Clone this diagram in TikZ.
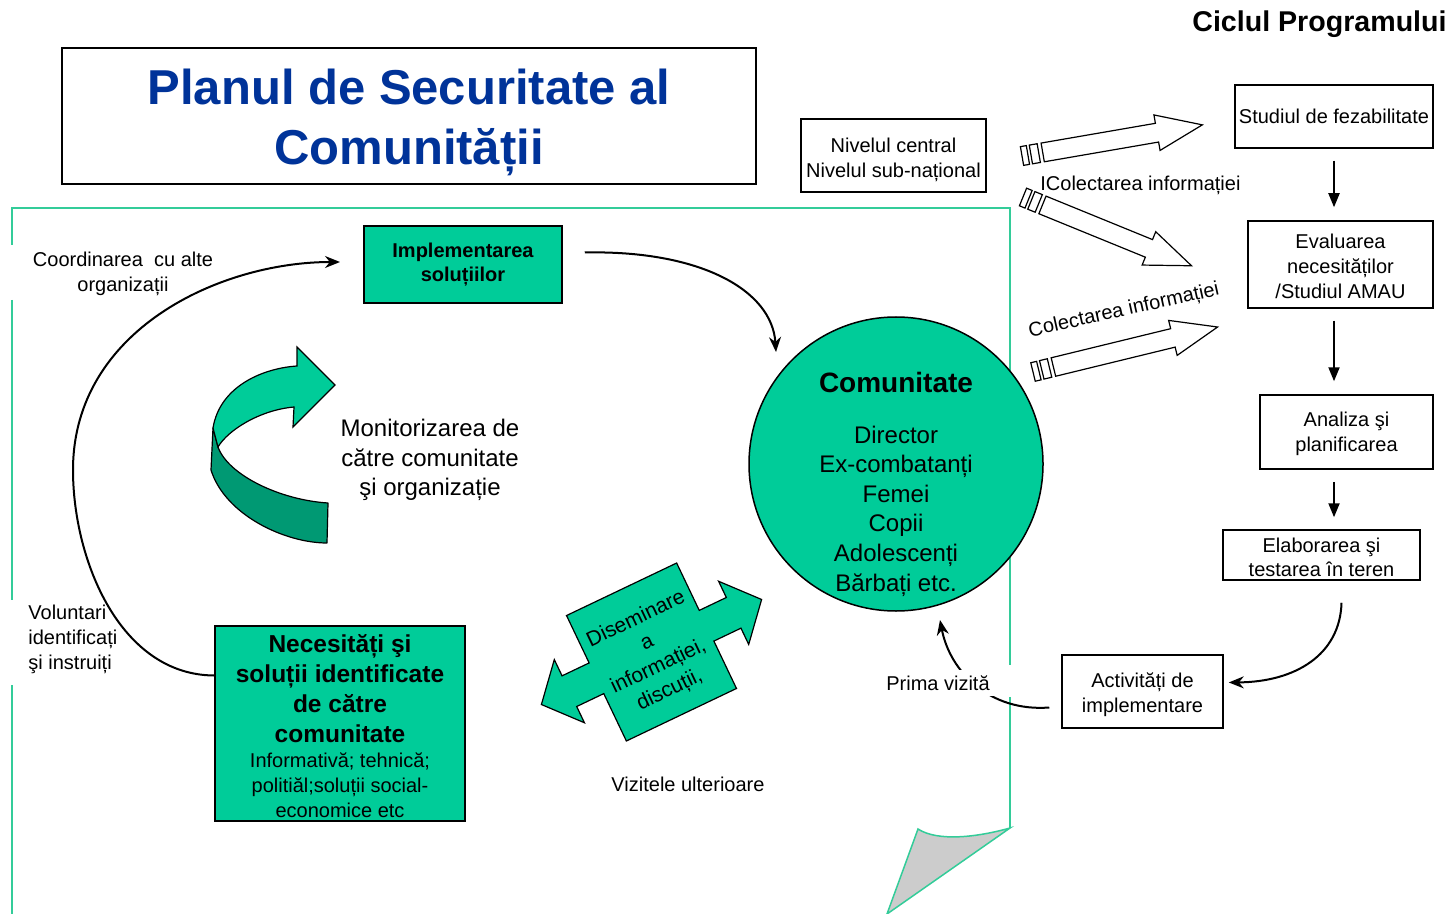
\documentclass[tikz,border=0pt]{standalone}
\usepackage{fontspec}
\setmainfont{Liberation Sans}
\usetikzlibrary{arrows.meta}
\definecolor{cgreen}{HTML}{00CC99}
\definecolor{dgreen}{HTML}{009973}
\definecolor{pgreen}{HTML}{33CC99}
\definecolor{tblue}{HTML}{003399}
\definecolor{foldgray}{HTML}{CCCCCC}
\newcommand\hollowarr[4]{%
\begin{scope}[shift={(#1,#2)}, rotate=#3]
\draw[line width=0.6pt, fill=white] (0,-9.5) rectangle (6,9.5);
\draw[line width=0.6pt, fill=white] (9,-9.5) rectangle (17,9.5);
\draw[line width=0.6pt, fill=white, line join=miter] (21,-9.5) -- ({#4-46},-9.5) -- ({#4-46},-18) -- (#4,0) -- ({#4-46},18) -- ({#4-46},9.5) -- (21,9.5) -- cycle;
\end{scope}}
\begin{document}
\begin{tikzpicture}[x=0.5pt,y=-0.5pt,
  box/.style={draw=black, line width=0.75pt, align=center, inner sep=1pt, font=\fontsize{10}{12.5}\selectfont},
  gbox/.style={box, fill=cgreen},
  lbl/.style={align=center, font=\fontsize{10}{12.5}\selectfont, inner sep=1pt},
  arr/.style={line width=1pt, -{Triangle[length=7pt,width=5.5pt]}},
  carr/.style={line width=1pt, -{Stealth[length=7.5pt,width=6pt]}},
  pline/.style={draw=pgreen, line width=0.75pt}]
\useasboundingbox (0,0) rectangle (1454,914);
\fill[white] (0,0) rectangle (1454,914);

% page border
\draw[pline] (12,245) -- (12,208) -- (1010,208) -- (1010,665);
\draw[pline] (12,300) -- (12,600);
\draw[pline] (12,685) -- (12,914);
\draw[pline] (1010,697) -- (1010,828);
\draw[pline, fill=foldgray] (1010,828) .. controls (978,837) and (938,842) .. (918,829) -- (887,914) -- cycle;

% title
\node[box, minimum width=347pt, minimum height=68pt] (title) at (409,116) {};
\node[lbl, font=\fontsize{24.5}{30}\selectfont\bfseries, text=tblue] (titlet) at (409,122.5) {Planul de Securitate al\\Comunității};
\node[font=\fontsize{14.3}{17}\selectfont\bfseries, anchor=east, inner sep=0pt] (ciclu) at (1447,24) {Ciclul Programului};

\node[box, minimum width=92.5pt, minimum height=36.5pt] (niv) at (893.5,155.5) {};
\node[lbl] (nivt) at (893.5,159.5) {Nivelul central\\Nivelul sub-național};

% right column
\node[box, minimum width=99pt, minimum height=31.5pt] (stud) at (1334,116.5) {Studiul de fezabilitate};
\node[box, minimum width=92.5pt, minimum height=43.5pt] (eval) at (1340.5,264.5) {};
\node[lbl] (evalt) at (1340.5,266.5) {Evaluarea\\necesităților\\/Studiul AMAU};
\node[box, minimum width=86.5pt, minimum height=37pt] (anal) at (1346.5,432) {};
\node[lbl] (analt) at (1346.5,434) {Analiza şi\\planificarea};
\node[box, minimum width=98.5pt, minimum height=25pt] (elab) at (1321.5,555) {};
\node[lbl, font=\fontsize{10}{12}\selectfont] (elabt) at (1321.5,557) {Elaborarea şi\\testarea în teren};
\node[box, minimum width=80.5pt, minimum height=36.5pt] (act) at (1142.5,691.5) {};
\node[lbl] (actt) at (1142.5,694.5) {Activități de\\implementare};

\draw[arr, shorten <=6pt, shorten >=6.5pt] (stud.south) -- (stud.south |- eval.north);
\draw[arr, shorten <=6pt, shorten >=6.5pt] (stud.south |- eval.south) -- (stud.south |- anal.north);
\draw[arr, shorten <=6pt, shorten >=6pt] (stud.south |- anal.south) -- (stud.south |- elab.north);
\draw[carr, shorten >=2.5pt] ([xshift=10pt,yshift=-11pt]elab.south) .. controls (1340,655) and (1295,682) .. ([yshift=4.5pt]act.east);

% hollow arrows
\hollowarr{1022}{156}{9.8}{183}
\hollowarr{1023}{197}{-22.2}{182}
\hollowarr{1033}{372}{13.7}{190}
\node[lbl, anchor=west] (col1) at (1038,185) {IColectarea informației};
\node[lbl, rotate=12.5] (col2) at (1124,311) {Colectarea informației};

% central
\node[gbox, minimum width=99pt, minimum height=38.5pt, font=\fontsize{10}{12}\selectfont\bfseries] (impl) at (463,264.5) {Implementarea\\soluțiilor};
\node[circle, draw=black, line width=0.75pt, fill=cgreen, minimum size=147pt] (com) at (896,464) {};
\node[font=\fontsize{14}{17}\selectfont\bfseries, inner sep=0pt] (comt) at (896,382) {Comunitate};
\node[lbl, font=\fontsize{12}{14.8}\selectfont] (coml) at (896,511) {Director\\Ex-combatanți\\Femei\\Copii\\Adolescenți\\Bărbați etc.};

\node[gbox, minimum width=125pt, minimum height=97.5pt] (nec) at (340,723.5) {};
\node[lbl, font=\fontsize{12.25}{15}\selectfont\bfseries] (nect) at (340,689) {Necesități şi\\soluții identificate\\de către\\comunitate};
\node[lbl] (necs) at (340,785) {Informativă; tehnică;\\politiăl;soluții social-\\economice etc};

% monitoring ribbon arrow
\draw[line width=0.6pt, fill=dgreen, line join=round] (213,428) -- (211,470) .. controls (225,515) and (285,543) .. (327,543) -- (328,503) .. controls (280,500) and (228,475) .. (218,447) -- cycle;
\draw[line width=0.6pt, fill=cgreen, line join=miter] (213,428) .. controls (220,385) and (265,368) .. (297,366) -- (297,347) -- (335,385) -- (293,427) -- (294,407) .. controls (260,410) and (228,430) .. (218,447) -- cycle;
\node[lbl, font=\fontsize{12}{14.8}\selectfont] (mon) at (430,460) {Monitorizarea de\\către comunitate\\şi organizație};

% dissemination double arrow
\begin{scope}[shift={(651.5,652)}, rotate=25.5]
\draw[line width=0.6pt, fill=cgreen, line join=miter] (-61,-69.5) -- (61,-69.5) -- (61,-17) -- (91,-17) -- (91,-35) -- (122,0) -- (91,35) -- (91,17) -- (61,17) -- (61,69.5) -- (-61,69.5) -- (-61,17) -- (-91,17) -- (-91,35) -- (-122,0) -- (-91,-35) -- (-91,-17) -- (-61,-17) -- cycle;
\end{scope}
\node[lbl, rotate=25.5, font=\fontsize{10.5}{13}\selectfont] (dis) at (653,655) {Diseminare\\a\\informației,\\discuții,};
\node[lbl] (viz) at (688,784) {Vizitele ulterioare};

% connectors
\coordinate (c1) at (340,262);
\draw[carr] ([yshift=24pt]nec.west) .. controls (120,675) and (73,560) .. (73,470) .. controls (73,330) and (220,262) .. (c1);
\node[lbl] (coord) at (123,274) {Coordinarea\ \ cu alte\\organizații};
\node[lbl, align=left, anchor=west] (vol) at (26,639) {Voluntari\\identificați\\şi instruiți};

\coordinate (i2) at (776,352);
\draw[carr] ([xshift=11pt,yshift=6pt]impl.east) .. controls (700,250) and (772,290) .. (i2);

\coordinate (p2) at (940,620);
\draw[carr] ([xshift=-6pt,yshift=-8pt]act.west) .. controls (990,712) and (950,672) .. (p2);
\node[lbl, fill=white, inner sep=3pt] (prima) at (938,683) {Prima vizită};
\end{tikzpicture}
\end{document}
